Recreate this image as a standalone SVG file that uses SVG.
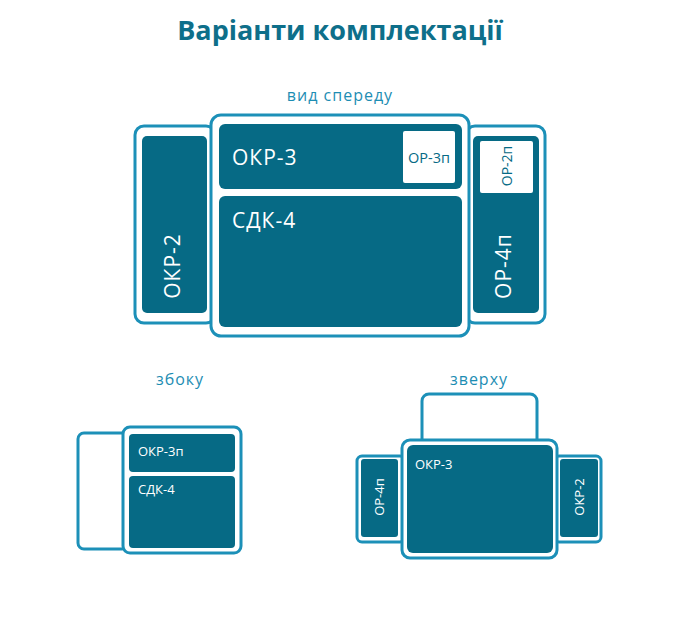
<svg xmlns="http://www.w3.org/2000/svg" width="680" height="630" viewBox="0 0 680 630">
<style>
.fr{fill:#fff;stroke:#1c90b8;stroke-width:3}
.dk{fill:#066a85}
.wb{fill:#fff}
.t{font-family:"Open Sans","Noto Sans",sans-serif}
.lw{fill:#fff}
.lb{fill:#066a85}
.big{font-size:21px;letter-spacing:1px}
.hd{fill:#1d8db3;font-size:16px;letter-spacing:1px;text-anchor:middle}
</style>
<rect width="680" height="630" fill="#fff"/>
<text class="t" x="340" y="40" text-anchor="middle" font-size="27" font-weight="bold" fill="#0e6f8a">Варіанти комплектації</text>
<text class="t hd" x="340" y="101">вид спереду</text>
<text class="t hd" x="180" y="385">збоку</text>
<text class="t hd" x="479" y="385">зверху</text>

<g id="front-left">
<rect class="fr" x="135" y="126" width="80" height="197" rx="9"/>
<rect class="dk" x="142" y="136" width="65" height="177" rx="5"/>
<text class="t lw big" transform="translate(180,266) rotate(-90)" text-anchor="middle">ОКР-2</text>
</g>
<g id="front-right">
<rect class="fr" x="466" y="126" width="79" height="197" rx="9"/>
<rect class="dk" x="473" y="136" width="66" height="177" rx="5"/>
<rect class="wb" x="480" y="141" width="53" height="52" rx="2"/>
<text class="t lb" font-size="14" transform="translate(512,166) rotate(-90)" text-anchor="middle">ОР-2п</text>
<text class="t lw big" transform="translate(511,266) rotate(-90)" text-anchor="middle">ОР-4п</text>
</g>
<g id="front-main">
<rect class="fr" x="211" y="115" width="258" height="221" rx="10"/>
<rect class="dk" x="219" y="124" width="243" height="65" rx="6"/>
<rect class="wb" x="403" y="131" width="52" height="52" rx="2"/>
<text class="t lw big" x="232" y="165">ОКР-3</text>
<text class="t lb" x="429" y="163" font-size="14.5" text-anchor="middle">ОР-3п</text>
<rect class="dk" x="219" y="196" width="243" height="131" rx="6"/>
<text class="t lw big" x="232" y="228">СДК-4</text>
</g>

<g id="side-left">
<rect class="fr" x="78" y="433" width="50" height="116" rx="6"/>
</g>
<g id="side-main">
<rect class="fr" x="123" y="427" width="118" height="126" rx="7"/>
<rect class="dk" x="129" y="434" width="106" height="38" rx="4"/>
<text class="t lw" x="138" y="456" font-size="13">ОКР-3п</text>
<rect class="dk" x="129" y="476" width="106" height="72" rx="4"/>
<text class="t lw" x="138" y="494" font-size="13">СДК-4</text>
</g>

<g id="top-back">
<rect class="fr" x="422" y="394" width="115" height="52" rx="7"/>
</g>
<g id="top-left">
<rect class="fr" x="357" y="456" width="48" height="86" rx="5"/>
<rect class="dk" x="361" y="459" width="37" height="78" rx="3"/>
<text class="t lw" font-size="13" transform="translate(384,497) rotate(-90)" text-anchor="middle">ОР-4п</text>
</g>
<g id="top-right">
<rect class="fr" x="554" y="456" width="47" height="86" rx="5"/>
<rect class="dk" x="560" y="459" width="38" height="78" rx="3"/>
<text class="t lw" font-size="13" transform="translate(584,497) rotate(-90)" text-anchor="middle">ОКР-2</text>
</g>
<g id="top-main">
<rect class="fr" x="402" y="440" width="155" height="118" rx="8"/>
<rect class="dk" x="407" y="445" width="146" height="108" rx="6"/>
<text class="t lw" x="415" y="469" font-size="13">ОКР-3</text>
</g>
</svg>
